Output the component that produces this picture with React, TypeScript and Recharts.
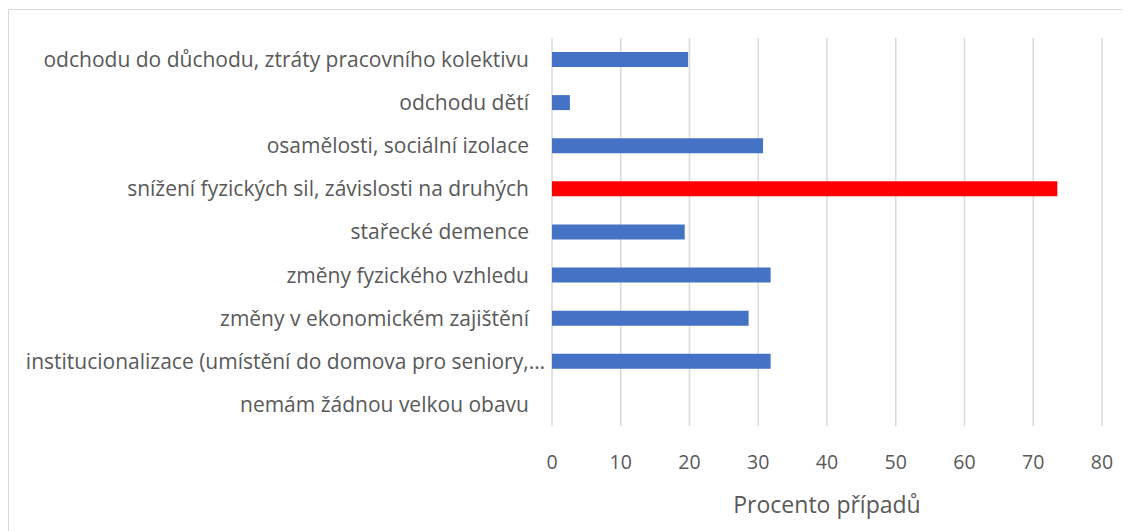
import { Bar, BarChart, CartesianGrid, Cell, XAxis, YAxis } from 'recharts'

// Obavy ze stáří – procento případů
const categories = [
  'odchodu do důchodu, ztráty pracovního kolektivu',
  'odchodu dětí',
  'osamělosti, sociální izolace',
  'snížení fyzických sil, závislosti na druhých',
  'stařecké demence',
  'změny fyzického vzhledu',
  'změny v ekonomickém zajištění',
  'institucionalizace (umístění do domova pro seniory,…',
  'nemám žádnou velkou obavu',
]
const values = [19.8, 2.6, 30.7, 73.5, 19.3, 31.8, 28.6, 31.8, 0]
const xTicks = [0, 10, 20, 30, 40, 50, 60, 70, 80]
const highlighted = 'snížení fyzických sil, závislosti na druhých'

const data = categories.map((name, i) => ({ name, value: values[i] }))

const font = '"Open Sans", Lato, sans-serif'
const grey = '#595959'

// Excel pushes a cut-off label (ending in …) closer to the axis
function CategoryTick({ x, y, payload }: any) {
  const cut = String(payload.value).endsWith('…')
  return (
    <text
      x={x + (cut ? 16 : 0)}
      y={y}
      dy='0.355em'
      textAnchor='end'
      fill={grey}
      fontSize={21}
      fontFamily={font}
    >
      {payload.value}
    </text>
  )
}

export default function App() {
  return (
    <div
      style={{
        marginTop: 1,
        width: 1121,
        height: 521,
        borderTop: '1px solid #d9d9d9',
        borderLeft: '1px solid #d9d9d9',
        background: '#fff',
        fontFamily: font,
      }}
    >
      <BarChart
        width={1121}
        height={521}
        data={data}
        layout='vertical'
        margin={{ top: 28, right: 28, bottom: 16, left: 0 }}
      >
        <CartesianGrid
          horizontal={false}
          stroke='#d9d9d9'
          strokeWidth={1.5}
        />
        <XAxis
          type='number'
          domain={[0, 80]}
          ticks={xTicks}
          axisLine={false}
          tickLine={false}
          tickMargin={23}
          height={89}
          tick={{ fill: grey, fontSize: 19.5, fontFamily: font }}
          label={{
            value: 'Procento případů',
            position: 'insideBottom',
            offset: 2,
            fill: grey,
            fontSize: 23,
            fontFamily: font,
          }}
        />
        <YAxis
          type='category'
          dataKey='name'
          width={543}
          axisLine={false}
          tickLine={false}
          tickMargin={17}
          interval={0}
          tick={<CategoryTick />}
        />
        <Bar dataKey='value' barSize={15} isAnimationActive={false}>
          {data.map((d) => (
            <Cell
              key={d.name}
              fill={d.name === highlighted ? '#ff0000' : '#4472c4'}
            />
          ))}
        </Bar>
      </BarChart>
    </div>
  )
}
